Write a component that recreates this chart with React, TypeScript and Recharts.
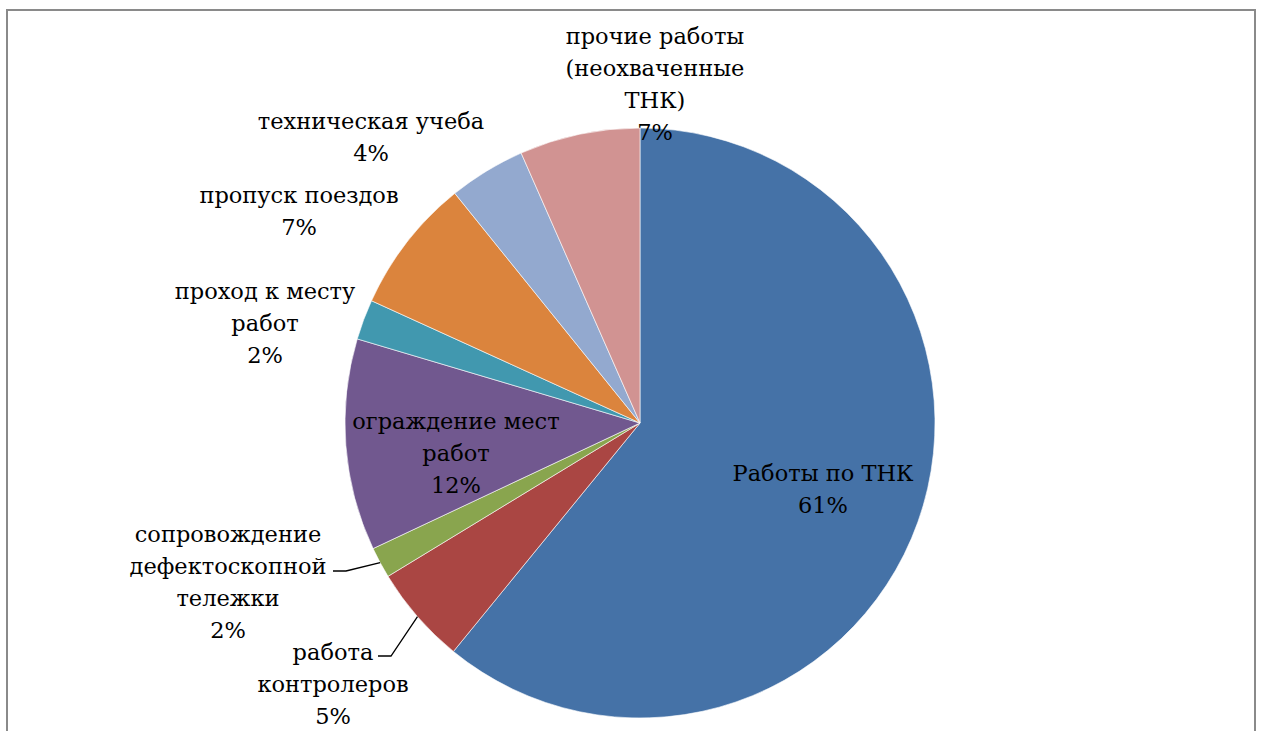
import React from "react";
import { PieChart, Pie, Cell } from "recharts";

// Shares of working time, in percent (clockwise from 12 o'clock)
const categories = [
  "Работы по ТНК",
  "работа\nконтролеров",
  "сопровождение\nдефектоскопной\nтележки",
  "ограждение мест\nработ",
  "проход к месту\nработ",
  "пропуск поездов",
  "техническая учеба",
  "прочие работы\n(неохваченные\nТНК)",
];
const shares = [60.9, 5.4, 1.7, 11.6, 2.2, 7.4, 4.2, 6.6];
const colors = [
  "#4572A7",
  "#AA4643",
  "#89A54E",
  "#71588F",
  "#4198AF",
  "#DB843D",
  "#93A9CF",
  "#D19392",
];

const chartData = categories.map((name, i) => ({ name, value: shares[i] }));

// label block centres relative to the pie centre; leader = horizontal start of the connector
const labelLayout: { dx: number; dy: number; leader?: [number, number] }[] = [
  { dx: 183, dy: 66 },
  { dx: -307, dy: 261, leader: [-262, 233] },
  { dx: -412, dy: 159, leader: [-307, 148] },
  { dx: -184, dy: 30 },
  { dx: -375, dy: -100 },
  { dx: -341, dy: -212 },
  { dx: -269, dy: -286 },
  { dx: 15, dy: -339 },
];

const RADIAN = Math.PI / 180;
const FONT = "DejaVu Serif";
const FONT_SIZE = 22.5;
const LINE_H = 32;

const renderLabel = (props: any) => {
  const { cx, cy, midAngle, outerRadius, percent, index, name } = props;
  const spot = labelLayout[index];
  const lines = [...String(name).split("\n"), `${Math.round(percent * 100)}%`];
  const x = cx + spot.dx;
  const yc = cy + spot.dy;
  const first = yc - ((lines.length - 1) * LINE_H) / 2 + FONT_SIZE * 0.36;

  let leader = null;
  if (spot.leader) {
    const ex = cx + outerRadius * Math.cos(-midAngle * RADIAN);
    const ey = cy + outerRadius * Math.sin(-midAngle * RADIAN);
    const sx = cx + spot.leader[0];
    const sy = cy + spot.leader[1];
    leader = (
      <polyline
        points={`${sx},${sy} ${sx + 13},${sy} ${ex},${ey}`}
        fill="none"
        stroke="#000"
        strokeWidth={1.3}
      />
    );
  }

  return (
    <g key={`lbl-${index}`}>
      {leader}
      <text
        x={x}
        y={first}
        textAnchor="middle"
        fill="#000"
        fontFamily={FONT}
        fontSize={FONT_SIZE}
      >
        {lines.map((line, i) => (
          <tspan key={i} x={x} dy={i === 0 ? 0 : LINE_H}>
            {line}
          </tspan>
        ))}
      </text>
    </g>
  );
};

const App: React.FC = () => {
  return (
    <div
      style={{
        position: "absolute",
        left: 0,
        top: 0,
        width: 1262,
        height: 731,
        overflow: "hidden",
        background: "#fff",
      }}
    >
      <div
        style={{
          position: "absolute",
          left: 6,
          top: 9,
          width: 1250,
          height: 800,
          border: "2px solid #8a8a8a",
          boxSizing: "border-box",
        }}
      />
      <div style={{ position: "absolute", left: 0, top: 0 }}>
        <PieChart
          width={1262}
          height={731}
          margin={{ top: 0, right: 0, bottom: 0, left: 0 }}
        >
          <Pie
            data={chartData}
            dataKey="value"
            nameKey="name"
            cx={640}
            cy={423}
            outerRadius={295}
            startAngle={90}
            endAngle={-270}
            stroke="#ffffff"
            strokeWidth={0.6}
            label={renderLabel}
            labelLine={false}
            isAnimationActive={false}
          >
            {chartData.map((d, i) => (
              <Cell key={d.name} fill={colors[i]} />
            ))}
          </Pie>
        </PieChart>
      </div>
    </div>
  );
};

export default App;
